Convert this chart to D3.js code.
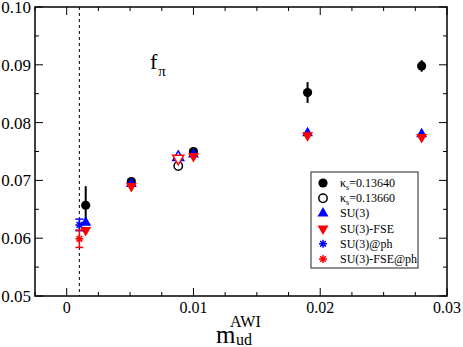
<!DOCTYPE html>
<html>
<head>
<meta charset="utf-8">
<script src="https://cdn.jsdelivr.net/npm/d3@7"></script>
<style>
  body { margin: 0; background: #fff; }
  text { font-family: "Liberation Serif", "Times New Roman", serif; fill: #000; }
</style>
</head>
<body>
<svg id="chart" width="463" height="347"></svg>
<script>
// data
const xHeavy = [0.0015, 0.0051, 0.0100, 0.0190, 0.0280];
const fHeavy = [0.0657, 0.0698, 0.0750, 0.0852, 0.0898];
const errHeavy = [0.0033, 0.0004, 0.0003, 0.0018, 0.0010];

const xLight = [0.0088];
const fLight = [0.0725];
const errLight = [0.0003];

const xSU3 = [0.0015, 0.0051, 0.0088, 0.0100, 0.0190, 0.0280];
const fSU3 = [0.0627, 0.0694, 0.0740, 0.0745, 0.0782, 0.0780];
const fSU3FSE = [0.0614, 0.0690, 0.0738, 0.0742, 0.0778, 0.0775];

const xPhys = [0.0010];
const fSU3ph = [0.0623];
const errSU3ph = [0.0010];
const fSU3FSEph = [0.0599];
const errSU3FSEph = [0.0015];

const xTicks = [0, 0.01, 0.02, 0.03];
const yTicks = [0.05, 0.06, 0.07, 0.08, 0.09, 0.10];
const legendLabels = ["=0.13640", "=0.13660", "SU(3)", "SU(3)-FSE", "SU(3)@ph", "SU(3)-FSE@ph"];

const MARGIN = { top: 7, right: 16, bottom: 51, left: 35 };
const width = 463, height = 347;
const boundsWidth = width - MARGIN.left - MARGIN.right;
const boundsHeight = height - MARGIN.top - MARGIN.bottom;

const BLUE = "#0000ff", RED = "#ff0000";

const svg = d3.select("#chart");
const g = svg.append("g").attr("transform", `translate(${MARGIN.left},${MARGIN.top})`);

const xScale = d3.scaleLinear().domain([-0.0025, 0.03]).range([0, boundsWidth]);
const yScale = d3.scaleLinear().domain([0.05, 0.10]).range([boundsHeight, 0]);

// ticks on all four sides, pointing inward
const xMinor = d3.range(-0.0025, 0.03001, 0.0025).filter(v => xTicks.every(t => Math.abs(t - v) > 1e-6));
const yMinor = d3.range(0.055, 0.1, 0.01);
const tickG = g.append("g").attr("stroke", "#000").attr("stroke-width", 1);
function hTick(v, len) {
  tickG.append("line").attr("x1", xScale(v)).attr("x2", xScale(v)).attr("y1", boundsHeight).attr("y2", boundsHeight - len);
  tickG.append("line").attr("x1", xScale(v)).attr("x2", xScale(v)).attr("y1", 0).attr("y2", len);
}
function vTick(v, len) {
  tickG.append("line").attr("y1", yScale(v)).attr("y2", yScale(v)).attr("x1", 0).attr("x2", len);
  tickG.append("line").attr("y1", yScale(v)).attr("y2", yScale(v)).attr("x1", boundsWidth).attr("x2", boundsWidth - len);
}
xTicks.forEach(v => hTick(v, 8));
xMinor.forEach(v => hTick(v, 4));
yTicks.forEach(v => vTick(v, 8));
yMinor.forEach(v => vTick(v, 4));

// tick labels
g.selectAll(".xlab").data(xTicks).join("text")
  .attr("x", d => xScale(d)).attr("y", boundsHeight + 17)
  .attr("text-anchor", "middle").style("font-size", "16px")
  .text(d => d === 0 ? "0" : d3.format(".2f")(d));
g.selectAll(".ylab").data(yTicks).join("text")
  .attr("x", -4).attr("y", d => yScale(d) + 6)
  .attr("text-anchor", "end").style("font-size", "17px")
  .text(d => d3.format(".2f")(d));

// physical point
g.append("line")
  .attr("x1", xScale(0.001)).attr("x2", xScale(0.001))
  .attr("y1", 0).attr("y2", boundsHeight)
  .attr("stroke", "#000").attr("stroke-width", 1).attr("stroke-dasharray", "3,3");

// frame
g.append("rect").attr("width", boundsWidth).attr("height", boundsHeight)
  .attr("fill", "none").attr("stroke", "#000").attr("stroke-width", 1.5);

// symbols
const triUp = d3.symbol().type(d3.symbolTriangle).size(52)();
const triDown = triUp;
function starPath(s) {
  let p = "";
  for (let i = 0; i < 4; i++) {
    const a = i * Math.PI / 4;
    const dx = s * Math.cos(a), dy = s * Math.sin(a);
    p += `M${-dx},${-dy}L${dx},${dy}`;
  }
  return p;
}

function errorBars(xs, ys, es, color, cap, sw) {
  xs.forEach((x, i) => {
    const cx = xScale(x), y1 = yScale(ys[i] - es[i]), y2 = yScale(ys[i] + es[i]);
    g.append("line").attr("x1", cx).attr("x2", cx).attr("y1", y1).attr("y2", y2)
      .attr("stroke", color).attr("stroke-width", sw);
    if (cap) {
      [y1, y2].forEach(y => g.append("line").attr("x1", cx - cap).attr("x2", cx + cap)
        .attr("y1", y).attr("y2", y).attr("stroke", color).attr("stroke-width", sw));
    }
  });
}

// kappa_s = 0.13640
errorBars(xHeavy, fHeavy, errHeavy, "#000", 0, 2);
g.selectAll(".heavy").data(xHeavy).join("circle")
  .attr("cx", d => xScale(d)).attr("cy", (d, i) => yScale(fHeavy[i]))
  .attr("r", 4.6).attr("fill", "#000");

// kappa_s = 0.13660
errorBars(xLight, fLight, errLight, "#000", 0, 1.5);
g.selectAll(".light").data(xLight).join("circle")
  .attr("cx", d => xScale(d)).attr("cy", (d, i) => yScale(fLight[i]))
  .attr("r", 4.2).attr("fill", "#fff").attr("stroke", "#000").attr("stroke-width", 1.5);

const hollow = x => xLight.includes(x);

// SU(3)
g.selectAll(".su3").data(xSU3).join("path")
  .attr("d", triUp)
  .attr("transform", (d, i) => `translate(${xScale(d)},${yScale(fSU3[i])})`)
  .attr("fill", d => hollow(d) ? "#fff" : BLUE)
  .attr("stroke", BLUE).attr("stroke-width", d => hollow(d) ? 1.5 : 0);

// SU(3)-FSE
g.selectAll(".su3fse").data(xSU3).join("path")
  .attr("d", triDown)
  .attr("transform", (d, i) => `translate(${xScale(d)},${yScale(fSU3FSE[i])}) rotate(180)`)
  .attr("fill", d => hollow(d) ? "#fff" : RED)
  .attr("stroke", RED).attr("stroke-width", d => hollow(d) ? 1.5 : 0);

// physical point extrapolations
errorBars(xPhys, fSU3ph, errSU3ph, BLUE, 4, 1.5);
g.selectAll(".su3ph").data(xPhys).join("path")
  .attr("d", starPath(4))
  .attr("transform", (d, i) => `translate(${xScale(d)},${yScale(fSU3ph[i])})`)
  .attr("stroke", BLUE).attr("stroke-width", 1.5);
errorBars(xPhys, fSU3FSEph, errSU3FSEph, RED, 4, 1.5);
g.selectAll(".su3fseph").data(xPhys).join("path")
  .attr("d", starPath(4))
  .attr("transform", (d, i) => `translate(${xScale(d)},${yScale(fSU3FSEph[i])})`)
  .attr("stroke", RED).attr("stroke-width", 1.5);

// f_pi label
const fpi = svg.append("text").attr("x", 150).attr("y", 69).style("font-size", "22px");
fpi.append("tspan").text("f");
fpi.append("tspan").attr("dy", 7).attr("dx", 1).style("font-size", "15px").text("π");

// x axis title
svg.append("text").attr("x", 216).attr("y", 343).style("font-size", "25px").text("m");
svg.append("text").attr("x", 230).attr("y", 327).style("font-size", "16px").text("AWI");
svg.append("text").attr("x", 236).attr("y", 345).style("font-size", "16px").text("ud");

// legend
const legend = svg.append("g").attr("transform", "translate(311,172)");
legend.append("rect").attr("width", 107).attr("height", 96)
  .attr("fill", "#fff").attr("stroke", "#222").attr("stroke-width", 1);
const rowY = i => 11 + i * 15.2;
const sx = 12;
legend.append("circle").attr("cx", sx).attr("cy", rowY(0)).attr("r", 4.6).attr("fill", "#000");
legend.append("circle").attr("cx", sx).attr("cy", rowY(1)).attr("r", 4.2)
  .attr("fill", "#fff").attr("stroke", "#000").attr("stroke-width", 1.5);
legend.append("path").attr("d", triUp).attr("transform", `translate(${sx},${rowY(2)})`).attr("fill", BLUE);
legend.append("path").attr("d", triDown).attr("transform", `translate(${sx},${rowY(3)}) rotate(180)`).attr("fill", RED);
legend.append("path").attr("d", starPath(4)).attr("transform", `translate(${sx},${rowY(4)})`)
  .attr("stroke", BLUE).attr("stroke-width", 1.5);
legend.append("path").attr("d", starPath(4)).attr("transform", `translate(${sx},${rowY(5)})`)
  .attr("stroke", RED).attr("stroke-width", 1.5);

legendLabels.forEach((lab, i) => {
  const t = legend.append("text").attr("x", 29).attr("y", rowY(i) + 4).style("font-size", "12px");
  if (i < 2) {
    t.append("tspan").text("κ");
    t.append("tspan").attr("dy", 3).style("font-size", "8px").text("s");
    t.append("tspan").attr("dy", -3).text(lab);
  } else {
    t.text(lab);
  }
});
</script>
</body>
</html>
